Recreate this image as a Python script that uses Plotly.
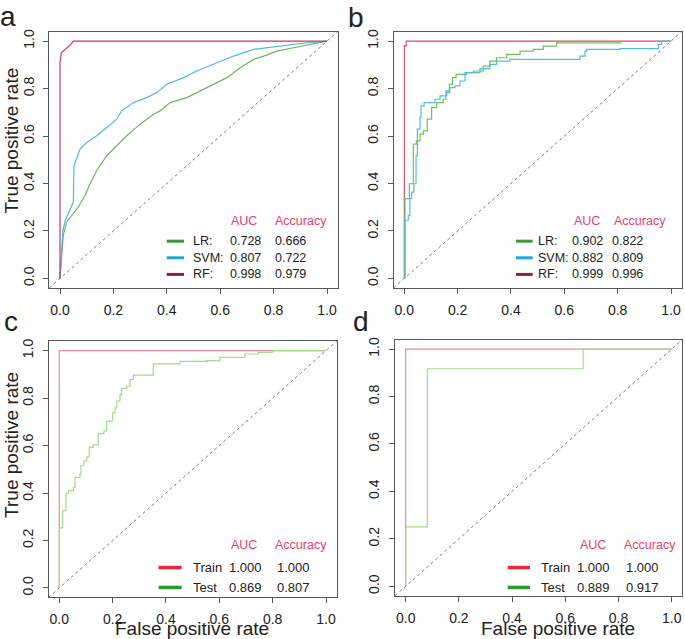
import plotly.graph_objects as go

# ---------------- data ----------------
# Panel a
a_rf_fpr = [0, 0, 0.005, 0.02, 0.04, 0.05, 1.0]
a_rf_tpr = [0, 0.909, 0.951, 0.965, 0.985, 1.0, 1.0]
a_svm_fpr = [0, 0.004, 0.01, 0.02, 0.03, 0.05, 0.0525, 0.0625, 0.075, 0.1, 0.1375, 0.175, 0.2125,
             0.231, 0.275, 0.325, 0.3625, 0.4, 0.4625, 0.5125, 0.575, 0.65, 0.725, 0.8125, 0.9, 1.0]
a_svm_tpr = [0, 0.084, 0.196, 0.245, 0.273, 0.322, 0.475, 0.503, 0.545, 0.573, 0.601, 0.636, 0.671,
             0.706, 0.741, 0.762, 0.783, 0.818, 0.846, 0.874, 0.902, 0.937, 0.965, 0.979, 0.990, 1.0]
a_lr_fpr = [0, 0.0025, 0.0125, 0.025, 0.044, 0.069, 0.094, 0.1125, 0.1375, 0.175, 0.2125, 0.25, 0.3,
            0.35, 0.375, 0.4125, 0.475, 0.525, 0.575, 0.625, 0.675, 0.725, 0.7625, 0.8125, 0.875, 0.9375, 1.0]
a_lr_tpr = [0, 0.042, 0.182, 0.238, 0.266, 0.301, 0.35, 0.399, 0.455, 0.517, 0.559, 0.601, 0.650,
            0.692, 0.706, 0.741, 0.762, 0.790, 0.818, 0.846, 0.888, 0.923, 0.937, 0.958, 0.972, 0.986, 1.0]

# Panel b
b_rf_fpr = [0, 0, 0.0075, 0.0075, 1.0]
b_rf_tpr = [0, 0.98, 0.98, 1.0, 1.0]
b_lr_fpr = [0.0025, 0.0025, 0.019, 0.034, 0.045, 0.059, 0.071, 0.086, 0.1025, 0.121, 0.146, 0.156,
            0.169, 0.181, 0.194, 0.234, 0.284, 0.296, 0.321, 0.346, 0.384, 0.434, 0.484, 0.521,
            0.571, 0.815]
b_lr_tpr = [0, 0.336, 0.399, 0.566, 0.580, 0.608, 0.622, 0.671, 0.720, 0.741, 0.755, 0.790,
            0.818, 0.846, 0.860, 0.867, 0.874, 0.895, 0.916, 0.930, 0.944, 0.958, 0.965, 0.979,
            0.993, 0.993]
b_svm_fpr = [0.0025, 0.0025, 0.015, 0.021, 0.0275, 0.036, 0.044, 0.049, 0.059, 0.0625, 0.074, 0.115,
             0.134, 0.159, 0.171, 0.19, 0.209, 0.2275, 0.259, 0.284, 0.321, 0.346, 0.396, 0.6525,
             0.659, 0.6775, 0.684, 0.809, 0.9525, 0.965, 1.0]
b_svm_tpr = [0, 0.245, 0.266, 0.336, 0.364, 0.399, 0.517, 0.629, 0.678, 0.727, 0.741, 0.755,
             0.769, 0.783, 0.804, 0.811, 0.832, 0.867, 0.874, 0.884, 0.902, 0.916, 0.923, 0.923,
             0.937, 0.958, 0.965, 0.968, 0.986, 1.0, 1.0]

# Panel c
c_train_fpr = [0, 0, 1.0]
c_train_tpr = [0, 1.0, 1.0]
c_test_fpr = [0, 0, 0.0125, 0.025, 0.034, 0.0525, 0.059, 0.0775, 0.081, 0.0925, 0.1025, 0.1125,
              0.1275, 0.146, 0.1675, 0.1775, 0.2, 0.209, 0.215, 0.2275, 0.234, 0.2525, 0.265,
              0.2775, 0.3525, 0.4025, 0.4525, 0.5525, 0.6025, 0.696, 0.746, 0.8, 1.0]
c_test_tpr = [0, 0.253, 0.326, 0.399, 0.41, 0.424, 0.466, 0.48, 0.515, 0.536, 0.552, 0.592,
              0.603, 0.650, 0.662, 0.703, 0.738, 0.759, 0.787, 0.815, 0.841, 0.850, 0.878,
              0.897, 0.944, 0.944, 0.955, 0.958, 0.972, 0.986, 0.993, 1.0, 1.0]

# Panel d
d_train_fpr = [0, 0, 1.0]
d_train_tpr = [0, 1.0, 1.0]
d_test_fpr = [0, 0, 0.0815, 0.667, 1.0]
d_test_tpr = [0, 0.25, 0.917, 1.0, 1.0]

ticks = [0.0, 0.2, 0.4, 0.6, 0.8, 1.0]
tick_text = ["0.0", "0.2", "0.4", "0.6", "0.8", "1.0"]

legend_ab_names = ["LR:", "SVM:", "RF:"]
legend_a_auc = ["0.728", "0.807", "0.998"]
legend_a_acc = ["0.666", "0.722", "0.979"]
legend_b_auc = ["0.902", "0.882", "0.999"]
legend_b_acc = ["0.822", "0.809", "0.996"]
legend_cd_names = ["Train", "Test"]
legend_c_auc = ["1.000", "0.869"]
legend_c_acc = ["1.000", "0.807"]
legend_d_auc = ["1.000", "0.889"]
legend_d_acc = ["1.000", "0.917"]

# ---------------- layout helpers ----------------
W, H = 685, 639
FONT = "Liberation Sans, Arial, sans-serif"


def px(x):
    return x / W


def py(y):
    return 1 - y / H


# pixel positions of data 0 and 1 for each panel (x0, x1, y0, y1)
panels = {
    "a": (60.0, 327.0, 276.7, 38.3),
    "b": (404.3, 671.0, 276.7, 38.3),
    "c": (59.3, 326.0, 587.7, 349.3),
    "d": (405.7, 671.7, 586.0, 347.7),
}

fig = go.Figure()
axis_ids = {"a": "", "b": "2", "c": "3", "d": "4"}

for key, (x0, x1, y0, y1) in panels.items():
    sx = x1 - x0
    sy = y0 - y1
    left = x0 - 0.04 * sx
    right = x1 + 0.04 * sx
    top = y1 - 0.04 * sy
    bottom = y0 + 0.04 * sy
    n = axis_ids[key]
    common = dict(range=[-0.04, 1.04], tickvals=ticks, ticktext=tick_text, showline=True,
                  mirror=True, linecolor="#555555", linewidth=1, ticks="outside", ticklen=5,
                  tickcolor="#555555", showgrid=False, zeroline=False,
                  tickfont=dict(family=FONT, size=14, color="#222222"), fixedrange=True)
    fig.layout["xaxis" + n] = dict(domain=[px(left), px(right)], anchor="y" + n,
                                   ticklabelstandoff=4, **common)
    fig.layout["yaxis" + n] = dict(domain=[py(bottom), py(top)], anchor="x" + n,
                                   tickangle=-90, ticklabelstandoff=4, **common)
    # diagonal reference line (abline 0,1)
    fig.add_shape(type="line", xref="x" + n + " domain", yref="y" + n + " domain",
                  x0=0, y0=0, x1=1, y1=1, line=dict(color="#a06a6a", width=1, dash="dot"))


def add_curve(n, xs, ys, color, shape="linear", width=1.2):
    fig.add_trace(go.Scatter(x=xs, y=ys, mode="lines", line=dict(color=color, width=width, shape=shape),
                             xaxis="x" + n, yaxis="y" + n, showlegend=False, hoverinfo="skip"))


# panel a
add_curve("", a_lr_fpr, a_lr_tpr, "#66bb5a")
add_curve("", a_svm_fpr, a_svm_tpr, "#4cb8e4")
add_curve("", a_rf_fpr, a_rf_tpr, "#c8385e")
# panel b
add_curve("2", b_rf_fpr, b_rf_tpr, "#d84a6a")
add_curve("2", b_lr_fpr, b_lr_tpr, "#70c060", "hv")
add_curve("2", b_svm_fpr, b_svm_tpr, "#52bce8", "hv")
# panel c
add_curve("3", c_train_fpr, c_train_tpr, "#f08a96")
add_curve("3", c_test_fpr, c_test_tpr, "#a4dc8c", "hv")
# panel d
add_curve("4", d_train_fpr, d_train_tpr, "#f08a96")
add_curve("4", d_test_fpr, d_test_tpr, "#a4dc8c", "hv")

annotations = []


def text(x, y, s, size=12.5, color="#222222", xanchor="left", angle=0):
    annotations.append(dict(x=px(x), y=py(y), xref="paper", yref="paper", text=s, showarrow=False,
                            xanchor=xanchor, yanchor="middle", textangle=angle,
                            font=dict(family=FONT, size=size, color=color)))


def hline(xa, xb, y, color, width):
    fig.add_shape(type="line", xref="paper", yref="paper", x0=px(xa), x1=px(xb), y0=py(y), y1=py(y),
                  line=dict(color=color, width=width))


HEAD = "#e8406a"

# legend a
text(229, 219.3, "AUC", color=HEAD)
text(273.3, 219.3, "Accuracy", color=HEAD)
ab_cols = ["#3c9c3c", "#22a6dc", "#8c2232"]
for i, (nm, v1, v2) in enumerate(zip(legend_ab_names, legend_a_auc, legend_a_acc)):
    yy = 239.3 + i * 16.7
    hline(166.7, 184, yy, ab_cols[i], 3)
    text(190.7, yy, nm)
    text(227.7, yy, v1)
    text(272.7, yy, v2)

# legend b
text(571.7, 219.3, "AUC", color=HEAD)
text(611.7, 219.3, "Accuracy", color=HEAD)
for i, (nm, v1, v2) in enumerate(zip(legend_ab_names, legend_b_auc, legend_b_acc)):
    yy = 239.3 + i * 16.7
    hline(516, 532.7, yy, ab_cols[i], 3)
    text(536, yy, nm)
    text(570, yy, v1)
    text(610, yy, v2)

cd_cols = ["#e8283c", "#2e9a2e"]
# legend c
text(229, 545, "AUC", color=HEAD)
text(273.3, 545, "Accuracy", color=HEAD)
for i, (nm, v1, v2) in enumerate(zip(legend_cd_names, legend_c_auc, legend_c_acc)):
    yy = 567.2 + i * 20
    hline(158.5, 181.7, yy, cd_cols[i], 3.5)
    text(190.7, yy, nm, size=13)
    text(226.7, yy, v1, size=13)
    text(275, yy, v2, size=13)

# legend d
text(578.3, 545, "AUC", color=HEAD)
text(622.3, 545, "Accuracy", color=HEAD)
for i, (nm, v1, v2) in enumerate(zip(legend_cd_names, legend_d_auc, legend_d_acc)):
    yy = 567.2 + i * 20
    hline(507.7, 530, yy, cd_cols[i], 3.5)
    text(539.3, yy, nm, size=13)
    text(575, yy, v1, size=13)
    text(624, yy, v2, size=13)

# axis titles
text(12, 138.5, "True positive rate", size=19, xanchor="center", angle=-90)
text(12, 444, "True positive rate", size=19, xanchor="center", angle=-90)
text(191.7, 628, "False positive rate", size=19, xanchor="center")
text(557.5, 628, "False positive rate", size=19, xanchor="center")

# panel letters
text(7.5, 13.5, "a", size=28, xanchor="center")
text(356, 14.2, "b", size=28, xanchor="center")
text(11, 319.5, "c", size=28, xanchor="center")
text(360.5, 319.5, "d", size=28, xanchor="center")

fig.update_layout(width=W, height=H, margin=dict(l=0, r=0, t=0, b=0), paper_bgcolor="white",
                  plot_bgcolor="white", annotations=annotations, showlegend=False)

fig.write_html("out.html", config={"displayModeBar": False},
               post_script="document.body.style.margin='0';document.body.style.overflow='hidden';")
